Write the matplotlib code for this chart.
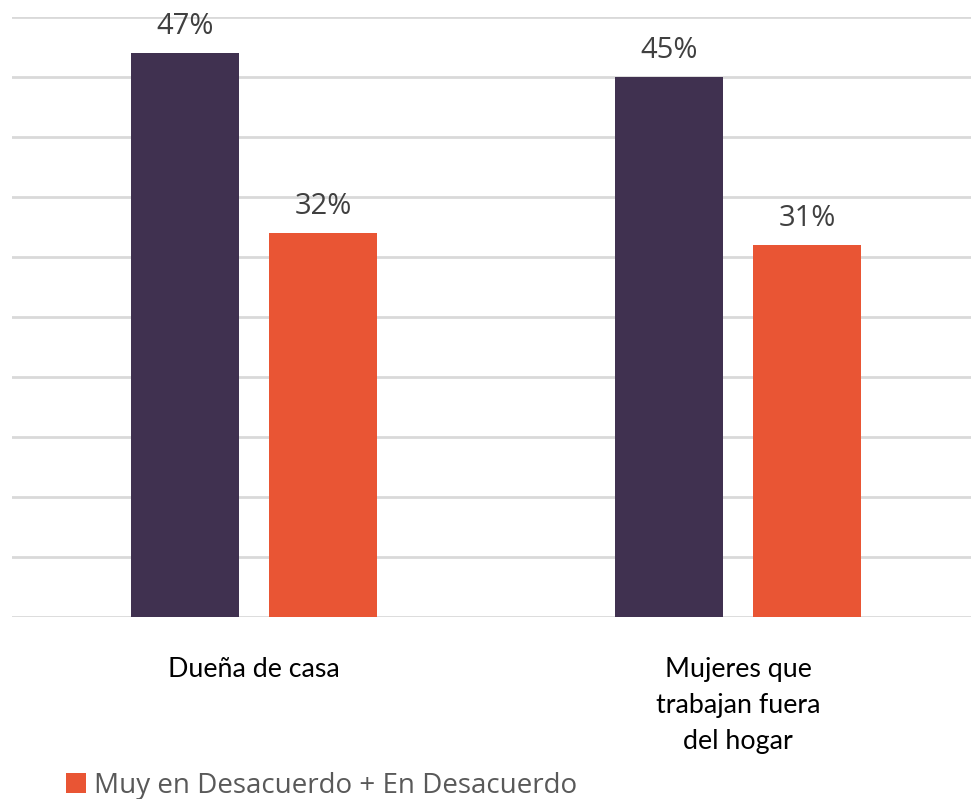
import matplotlib
matplotlib.use("Agg")
import matplotlib.pyplot as plt
import numpy as np

categories = ["Dueña de casa", "Mujeres que\ntrabajan fuera\ndel hogar"]
series_a_values = [47, 45]
series_b_values = [32, 31]
series_b_name = "Muy en Desacuerdo + En Desacuerdo"
value_labels_a = ["47%", "45%"]
value_labels_b = ["32%", "31%"]

purple = "#403150"
orange = "#E95534"
grid_c = "#D9D9D9"

W, H = 971, 799
fig = plt.figure(figsize=(W / 100, H / 100), dpi=100)
left_px, right_px = 12, 971
top_px, base_px = 17, 617
ax = fig.add_axes([left_px / W, 1 - base_px / H, (right_px - left_px) / W, (base_px - top_px) / H])

x = np.arange(len(categories))
unit = 484.0
off = 69 / unit
bw = 108 / unit
ax.set_xlim(-0.5, -0.5 + (right_px - left_px) / unit)
ax.set_ylim(0, 50)

ax.bar(x - off, series_a_values, bw, color=purple, zorder=3)
bars_b = ax.bar(x + off, series_b_values, bw, color=orange, zorder=3, label=series_b_name)

ax.set_yticks(np.arange(0, 51, 5))
ax.yaxis.grid(True, color=grid_c, linewidth=2)
ax.set_axisbelow(True)
ax.tick_params(left=False, labelleft=False, bottom=False, labelbottom=False)
for s in ax.spines.values():
    s.set_visible(False)

val_font = dict(family=["Open Sans", "DejaVu Sans"], fontsize=21, color="#404040")
for xi, v, t in zip(x - off, series_a_values, value_labels_a):
    ax.annotate(t, (xi, v), xytext=(0, 9), textcoords="offset points",
                ha="center", va="bottom", annotation_clip=False, **val_font)
for xi, v, t in zip(x + off, series_b_values, value_labels_b):
    ax.annotate(t, (xi, v), xytext=(0, 9), textcoords="offset points",
                ha="center", va="bottom", annotation_clip=False, **val_font)

for xi, c in zip(x, categories):
    ax.annotate(c, (xi, 0), xytext=(0, -29), textcoords="offset points",
                ha="center", va="top", fontsize=19.3, color="#000000",
                family=["Lato", "DejaVu Sans"], linespacing=1.55, annotation_clip=False)

leg = fig.legend(handles=[bars_b], labels=[series_b_name], loc="lower left",
                 bbox_to_anchor=(55 / W, -0.015), frameon=False,
                 prop=dict(family=["Open Sans", "DejaVu Sans"], size=20),
                 handlelength=0.7, handleheight=0.7, handletextpad=0.3, borderaxespad=0)
for t in leg.get_texts():
    t.set_color("#595959")

fig.savefig("out.png", dpi=100)
